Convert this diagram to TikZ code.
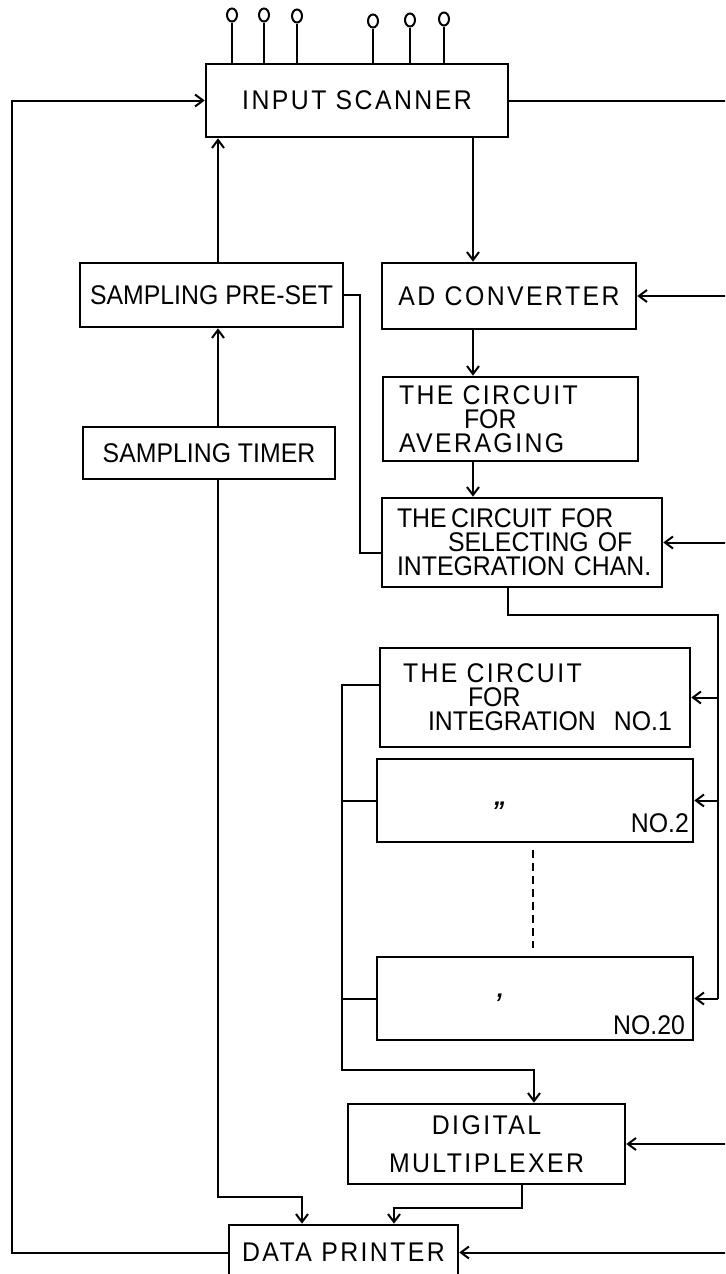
\documentclass[tikz,border=0pt]{standalone}
\usepackage{fontspec}
\setmainfont{Liberation Sans}[FakeStretch=0.92]
\newfontfamily\spaced{Liberation Sans}[FakeStretch=0.92, LetterSpace=9]
\newcommand\lblsize{\fontsize{13.5pt}{12pt}\selectfont}
\usetikzlibrary{arrows.meta,shapes.geometric}

\begin{document}
\begin{tikzpicture}[
    x=0.5pt, y=-0.5pt,
    box/.style 2 args={
       draw, line width=1.3pt, inner sep=0pt, font=\lblsize,
       minimum width=#1, minimum height=#2
        },
    multi/.style={align=left, text width=#1},
    term/.style={ellipse, draw, line width=1pt, inner sep=0pt,
       minimum width=5pt, minimum height=6.5pt},
    wire/.style={line width=1pt},
    arr/.style={wire, -{Straight Barb[length=4pt,width=6pt]}},
    gap/.style={line width=1.2pt, dash pattern=on 4pt off 2.5pt}]

\useasboundingbox (0,0) rectangle (725,1274);
\clip (0,0) rectangle (725,1274);

\node[box={151pt}{36.5pt}] (scanner) at (357,100.5) {\spaced INPUT SCANNER};
\node[box={131.5pt}{32pt}] (preset) at (211.5,295) {SAMPLING PRE-SET};
\node[box={127pt}{33pt}] (adconv) at (509,296) {\spaced AD CONVERTER};
\node[box={126pt}{26pt}] (timer) at (209,453) {SAMPLING TIMER};
\node[box={127.5pt}{42pt}, multi=111.5pt] (avg) at (510.5,419)
   {\mbox{\spaced THE CIRCUIT}\\\mbox{\hspace{32.5pt}FOR}\\\mbox{\spaced AVERAGING}};
\node[box={140pt}{44.5pt}, multi=125pt] (sel) at (522,542.5)
   {\mbox{THE\,CIRCUIT FOR}\\\mbox{\hspace{25.5pt}SELECTING OF}\\\mbox{INTEGRATION CHAN.}};
\node[box={155pt}{49.5pt}, multi=132pt] (integ1) at (535,697.5)
   {\mbox{\spaced THE CIRCUIT}\\\mbox{\hspace{32.5pt}FOR}\\\mbox{\hspace{12.5pt}INTEGRATION~~NO.1}};
\node[box={158pt}{41.5pt}] (integ2) at (535,800.5) {};
\node[box={158pt}{41.5pt}] (integ20) at (535,998.5) {};
\node[font=\lblsize\bfseries\itshape] (ditto2) at (498,811) {"};
\node[font=\lblsize\bfseries\itshape] (ditto20) at (498,1003) {'};
\node[font=\lblsize, anchor=south east, inner xsep=2.5pt, inner ysep=5pt]
   (no2) at (integ2.south east) {NO.2};
\node[font=\lblsize, anchor=south east, inner xsep=4.5pt, inner ysep=3pt]
   (no20) at (integ20.south east) {NO.20};
\node[box={138.5pt}{40pt}, align=center] (mux) at (486.5,1144)
   {{\spaced DIGITAL}\\[7pt]{\spaced MULTIPLEXER}};
\node[box={114.5pt}{27.5pt}] (printer) at (343.5,1252.5) {\spaced DATA PRINTER};

\foreach \x/\y [count=\i] in {232/15,264/15,297/16,373/21,410/20,444/19} {
   \node[term] (t-\i) at (\x,\y) {};
   \draw[wire] (t-\i) -- (t-\i |- scanner.north);
  }

\coordinate (lb) at (12,0);
\coordinate (rb) at (740,0);
\coordinate (xa) at (218,0);
\coordinate (xb) at (473,0);
\coordinate (xc) at (342,0);
\coordinate (xd) at (718,0);
\coordinate (xp) at (302,0);
\coordinate (xq) at (394,0);
\coordinate (xm) at (534,0);

\draw[arr] (printer.west) -- (printer.west -| lb) |- (scanner.west);
\draw[wire] (scanner.east) -- (scanner.east -| rb);
\foreach \n in {adconv,sel,mux,printer}
   \draw[arr] (\n.east -| rb) -- (\n.east);

\draw[arr] (preset.north -| xa) -- (scanner.south -| xa);
\draw[arr] (timer.north -| xa) -- (preset.south -| xa);
\draw[arr] (timer.south -| xa) |- (xp |- 0,1197) -- (printer.north -| xp);
\draw[wire] (preset.east) -- (preset.east -| 360,0) |- ([yshift=-5pt]sel.west);

\draw[arr] (scanner.south -| xb) -- (adconv.north -| xb);
\draw[arr] (adconv.south -| xb) -- (avg.north -| xb);
\draw[arr] (avg.south -| xb) -- (sel.north -| xb);

\draw[wire] (sel.south -| 508,0) |- (xd |- 0,615) -- (xd |- integ20.east);
\foreach \n in {integ1,integ2,integ20}
   \draw[arr] (xd |- \n.east) -- (\n.east);

\draw[arr] ([yshift=6.5pt]integ1.west) -- ([yshift=6.5pt]integ1.west -| xc)
   |- (xm |- 0,1070) -- (mux.north -| xm);
\foreach \n in {integ2,integ20}
   \draw[wire] (\n.west) -- (\n.west -| xc);
\draw[gap] (533,850) -- (533,948);

\draw[arr] (mux.south -| 522,0) |- (xq |- 0,1208) -- (printer.north -| xq);
\end{tikzpicture}
\end{document}
